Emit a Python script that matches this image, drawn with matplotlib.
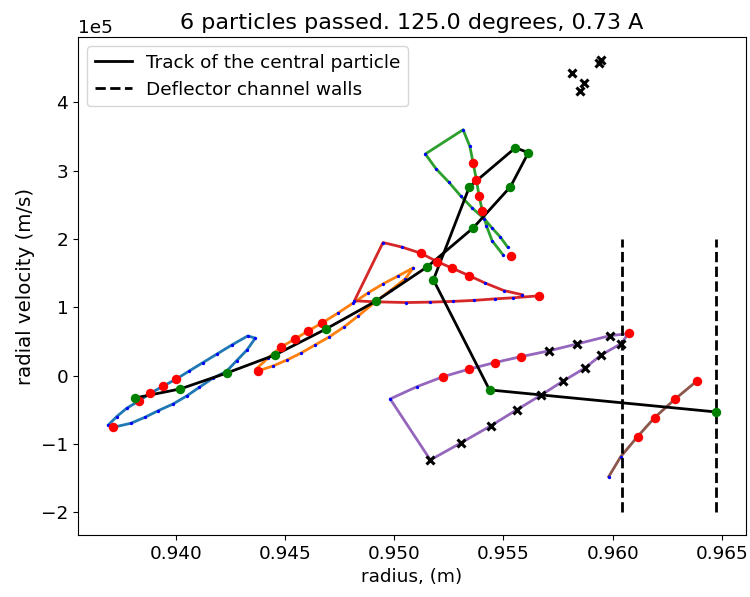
import numpy as np
import matplotlib
matplotlib.use("Agg")
import matplotlib.pyplot as plt
from matplotlib.ticker import MultipleLocator

plt.rcParams['font.family'] = ['DejaVu Sans']
plt.rcParams['font.size'] = 13.3

VEL_UNIT = 1e5  # radial velocities below are given in units of 1e5 m/s

title_text = "6 particles passed. 125.0 degrees, 0.73 A"
xlabel_text = "radius, (m)"
ylabel_text = "radial velocity (m/s)"
legend_central = "Track of the central particle"
legend_walls = "Deflector channel walls"

# central particle track
central_r = [0.93812, 0.94019, 0.94234, 0.94454, 0.94688, 0.94918, 0.95151, 0.95362,
             0.95532, 0.95614, 0.95555, 0.95344, 0.95179, 0.95436, 0.96472]
central_vr = [-0.327, -0.195, 0.040, 0.303, 0.684, 1.094, 1.592, 2.163,
              2.763, 3.261, 3.334, 2.763, 1.401, -0.209, -0.531]

# deflector channel walls
wall_r = [0.96041, 0.96472]
wall_vr = [-2.0, 2.0]

# particle 0 (C0)
p0_r = [0.93690, 0.93728, 0.93774, 0.93832, 0.93883, 0.93942, 0.94000, 0.94061, 0.94123,
        0.94186, 0.94256, 0.94329, 0.94363, 0.94325, 0.94278, 0.94230, 0.94168, 0.94107,
        0.94049, 0.93987, 0.93919, 0.93858, 0.93793, 0.93712]
p0_vr = [-0.722, -0.600, -0.477, -0.366, -0.258, -0.151, -0.053, 0.069, 0.190,
         0.313, 0.449, 0.581, 0.548, 0.376, 0.220, 0.059, -0.038, -0.170,
         -0.297, -0.414, -0.512, -0.609, -0.697, -0.756]
p0_red_r = [0.93712, 0.93832, 0.93883, 0.93942, 0.94000]
p0_red_vr = [-0.756, -0.366, -0.258, -0.151, -0.053]

# particle 1 (C1)
p1_r = [0.94367, 0.94422, 0.94482, 0.94546, 0.94605, 0.94670, 0.94743, 0.94812, 0.94880,
        0.94949, 0.95019, 0.95087, 0.95050, 0.94986, 0.94913, 0.94835, 0.94770, 0.94702,
        0.94637, 0.94574, 0.94509, 0.94445, 0.94376]
p1_vr = [0.098, 0.259, 0.420, 0.537, 0.654, 0.772, 0.918, 1.064, 1.211,
         1.343, 1.460, 1.577, 1.416, 1.255, 1.079, 0.874, 0.713, 0.567,
         0.449, 0.332, 0.230, 0.142, 0.069]
p1_red_r = [0.94376, 0.94482, 0.94546, 0.94605, 0.94670]
p1_red_vr = [0.069, 0.420, 0.537, 0.654, 0.772]

# particle 2 (C2)
p2_r = [0.95519, 0.95486, 0.95448, 0.95412, 0.95357, 0.95306, 0.95249, 0.95192, 0.95142,
        0.95315, 0.95346, 0.95361, 0.95376, 0.95388, 0.95403, 0.95422, 0.95448, 0.95498]
p2_vr = [1.880, 2.026, 2.158, 2.294, 2.451, 2.621, 2.832, 3.022, 3.242,
         3.597, 3.353, 3.110, 2.865, 2.631, 2.411, 2.192, 1.972, 1.767]
p2_red_r = [0.95361, 0.95376, 0.95388, 0.95403, 0.95536]
p2_red_vr = [3.110, 2.865, 2.631, 2.411, 1.753]

# particle 3 (C3)
p3_r = [0.95661, 0.95542, 0.95463, 0.95367, 0.95271, 0.95165, 0.95055, 0.94922, 0.94817,
        0.94948, 0.95035, 0.95120, 0.95195, 0.95265, 0.95341, 0.95417, 0.95501, 0.95587]
p3_vr = [1.167, 1.138, 1.123, 1.101, 1.086, 1.075, 1.069, 1.079, 1.094,
         1.947, 1.880, 1.792, 1.669, 1.572, 1.464, 1.353, 1.245, 1.182]
p3_red_r = [0.95661, 0.95120, 0.95195, 0.95265, 0.95341]
p3_red_vr = [1.167, 1.792, 1.669, 1.572, 1.464]

# particle 4 (C4)
p4_r = [0.96067, 0.95990, 0.95838, 0.95708, 0.95581, 0.95459, 0.95341, 0.95224, 0.95104,
        0.94981, 0.95165, 0.95307, 0.95441, 0.95560, 0.95673, 0.95774, 0.95872, 0.95948,
        0.96037, 0.96074]
p4_vr = [0.611, 0.586, 0.464, 0.362, 0.278, 0.190, 0.094, -0.015, -0.161,
         -0.341, -1.234, -0.981, -0.736, -0.502, -0.283, -0.078, 0.108, 0.303,
         0.464, 0.621]
p4_red_r = [0.96074, 0.95581, 0.95459, 0.95341, 0.95224]
p4_red_vr = [0.621, 0.278, 0.190, 0.094, -0.015]
p4_x_r = [0.95990, 0.95838, 0.95708, 0.95165, 0.95307, 0.95441, 0.95560, 0.95673,
          0.95774, 0.95872, 0.95948, 0.96037]
p4_x_vr = [0.586, 0.464, 0.362, -1.234, -0.981, -0.736, -0.502, -0.283,
           -0.078, 0.108, 0.303, 0.464]

# particle 5 (C5)
p5_r = [0.95982, 0.96037, 0.96114, 0.96192, 0.96285, 0.96388]
p5_vr = [-1.479, -1.186, -0.893, -0.615, -0.346, -0.073]
p5_red_r = [0.96114, 0.96192, 0.96285, 0.96388]
p5_red_vr = [-0.893, -0.615, -0.346, -0.073]

# isolated lost-particle markers
lost_r = [0.95815, 0.95868, 0.95850, 0.95937, 0.95945]
lost_vr = [4.427, 4.281, 4.158, 4.574, 4.622]

fig = plt.figure(figsize=(7.5, 5.97), dpi=100)
ax = fig.add_axes([0.104, 0.1039, 0.8907, 0.8341])

tracks = [
    (p0_r, p0_vr, p0_red_r, p0_red_vr),
    (p1_r, p1_vr, p1_red_r, p1_red_vr),
    (p2_r, p2_vr, p2_red_r, p2_red_vr),
    (p3_r, p3_vr, p3_red_r, p3_red_vr),
    (p4_r, p4_vr, p4_red_r, p4_red_vr),
    (p5_r, p5_vr, p5_red_r, p5_red_vr),
]
for i, (r, vr, rr, rvr) in enumerate(tracks):
    vr = np.asarray(vr) * VEL_UNIT
    ax.plot(r, vr, color=f"C{i}", lw=2.0, zorder=2)
    ax.plot(r, vr, 'o', color='blue', ms=2.4, mew=0, zorder=3)
    ax.plot(rr, np.asarray(rvr) * VEL_UNIT, 'o', color='red', ms=6.8, mew=0, zorder=5)

ax.plot(p4_x_r, np.asarray(p4_x_vr) * VEL_UNIT, 'x', color='black', ms=5.5, mew=2.2, zorder=4)
ax.plot(lost_r, np.asarray(lost_vr) * VEL_UNIT, 'x', color='black', ms=5.5, mew=2.2, zorder=4)

cvr = np.asarray(central_vr) * VEL_UNIT
ax.plot(central_r, cvr, color='black', lw=2.0, zorder=4, label=legend_central)
ax.plot(central_r, cvr, 'o', color='green', ms=6.8, mew=0, zorder=6)

wvr = np.asarray(wall_vr) * VEL_UNIT
ax.plot([wall_r[0], wall_r[0]], wvr, 'k--', lw=2.0, zorder=4, label=legend_walls)
ax.plot([wall_r[1], wall_r[1]], wvr, 'k--', lw=2.0, zorder=4)

ax.xaxis.set_major_locator(MultipleLocator(0.005))
ax.ticklabel_format(axis='y', style='sci', scilimits=(0, 0))
ax.set_title(title_text, fontsize=16)
ax.set_xlabel(xlabel_text)
ax.set_ylabel(ylabel_text, fontsize=14.2)
ax.legend(loc='upper left')

fig.savefig("out.png", dpi=100)
